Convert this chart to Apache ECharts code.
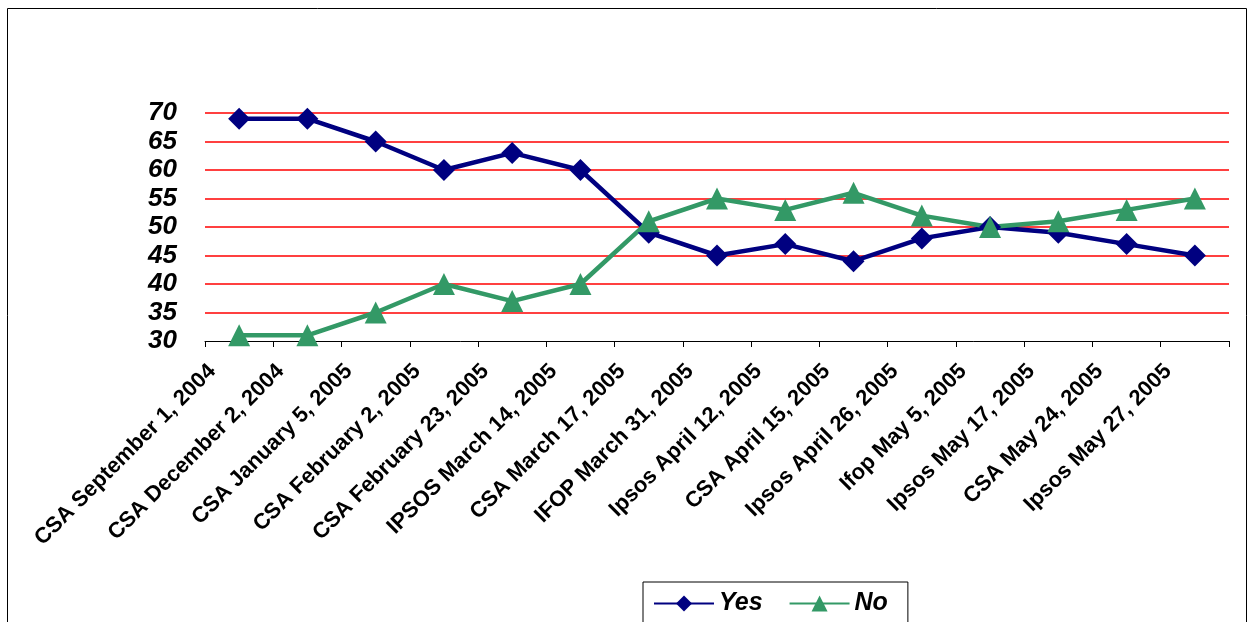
<!DOCTYPE html>
<html>
<head>
<meta charset="utf-8">
<script src="https://cdn.jsdelivr.net/npm/echarts@6/dist/echarts.min.js"></script>
<style>
  html, body { margin: 0; padding: 0; background: #fff; }
  #chart { width: 1254px; height: 622px; }
</style>
</head>
<body>
<div id="chart"></div>
<script>
const categories = [
    'CSA September 1, 2004',
    'CSA December 2, 2004',
    'CSA January 5, 2005',
    'CSA February 2, 2005',
    'CSA February 23, 2005',
    'IPSOS March 14, 2005',
    'CSA March 17, 2005',
    'IFOP March 31, 2005',
    'Ipsos April 12, 2005',
    'CSA April 15, 2005',
    'Ipsos April 26, 2005',
    'Ifop May 5, 2005',
    'Ipsos May 17, 2005',
    'CSA May 24, 2005',
    'Ipsos May 27, 2005'
]
const yesValues = [69, 69, 65, 60, 63, 60, 49, 45, 47, 44, 48, 50, 49, 47, 45]
const noValues = [31, 31, 35, 40, 37, 40, 51, 55, 53, 56, 52, 50, 51, 53, 55]

const chart = echarts.init(document.getElementById('chart'))
const option = {
    animation: false,
    textStyle: { fontFamily: 'Liberation Sans, Arial, sans-serif' },
    graphic: [{
        type: 'rect',
        shape: { x: 7.5, y: 8.5, width: 1239, height: 700 },
        style: { fill: 'none', stroke: '#000', lineWidth: 1 },
        silent: true
    }],
    grid: {
        left: 205,
        right: 25,
        top: 113,
        bottom: 281
    },
    legend: {
        bottom: -2,
        left: 643,
        itemWidth: 60,
        itemHeight: 20,
        itemGap: 26,
        padding: [9, 20, 8, 10],
        borderColor: '#000',
        borderWidth: 1,
        textStyle: {
            fontSize: 25,
            fontWeight: 'bold',
            fontStyle: 'italic',
            color: '#000'
        },
        data: ['Yes', 'No']
    },
    xAxis: {
        type: 'category',
        boundaryGap: true,
        data: categories,
        axisLine: { lineStyle: { color: '#000', width: 1 } },
        axisTick: { show: true, length: 6, lineStyle: { color: '#000' } },
        splitLine: { show: false },
        axisLabel: {
            interval: 0,
            rotate: 45,
            margin: 0,
            padding: [0, 38, 0, 0],
            fontSize: 22,
            fontWeight: 'bold',
            color: '#000'
        }
    },
    yAxis: {
        type: 'value',
        min: 30,
        max: 70,
        interval: 5,
        axisLine: { show: false },
        axisTick: { show: false },
        axisLabel: {
            margin: 28,
            fontSize: 26,
            fontWeight: 'bold',
            fontStyle: 'italic',
            color: '#000'
        },
        splitLine: {
            show: true,
            showMinLine: false,
            lineStyle: { color: '#ff0000', width: 1.5 }
        }
    },
    series: [
        {
            name: 'Yes',
            type: 'line',
            data: yesValues,
            symbol: 'diamond',
            symbolSize: 22,
            lineStyle: { color: '#000080', width: 4.5 },
            itemStyle: { color: '#000080' }
        },
        {
            name: 'No',
            type: 'line',
            data: noValues,
            symbol: 'triangle',
            symbolSize: 22,
            lineStyle: { color: '#339966', width: 4.5 },
            itemStyle: { color: '#339966' }
        }
    ]
}
chart.setOption(option)
</script>
</body>
</html>
